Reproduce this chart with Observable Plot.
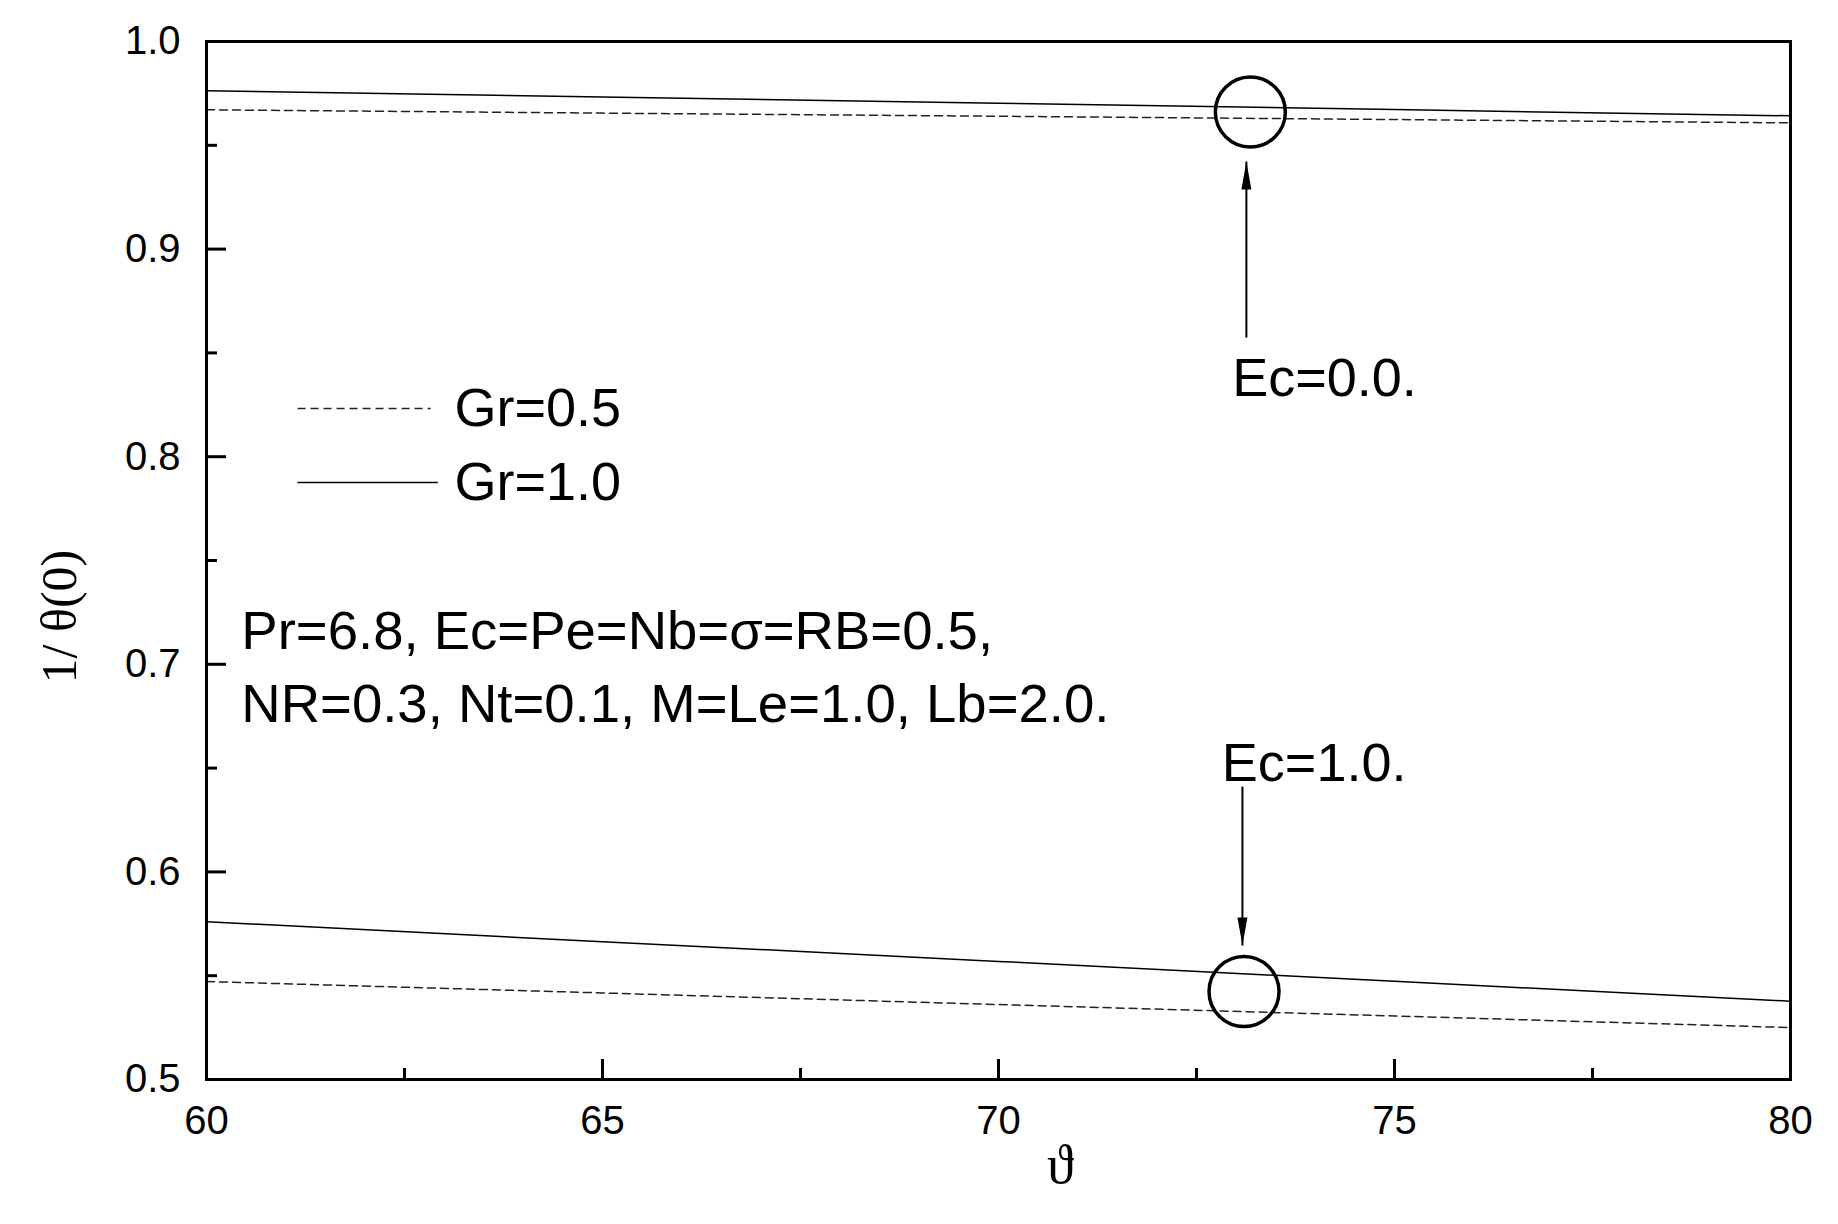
<!DOCTYPE html>
<html><head><meta charset="utf-8">
<script src="https://cdn.jsdelivr.net/npm/d3@7"></script>
<script src="https://cdn.jsdelivr.net/npm/@observablehq/plot@0.6"></script>
<style>html,body{margin:0;padding:0;background:#fff;} #chart{width:1838px;height:1224px;}</style>
</head><body><div id="chart"></div>
<script>
// x: vartheta, y: 1/theta(0)
const theta = [60, 65, 70, 75, 80];
const gr05_ec00 = [0.9671, 0.9655, 0.9640, 0.9624, 0.9608];
const gr10_ec00 = [0.9763, 0.9733, 0.9703, 0.9672, 0.9642];
const gr05_ec10 = [0.5472, 0.5417, 0.5361, 0.5306, 0.5250];
const gr10_ec10 = [0.5760, 0.5664, 0.5569, 0.5473, 0.5377];

const xMajor = [60, 65, 70, 75, 80];
const xMinor = [62.5, 67.5, 72.5, 77.5];
const yMajor = [0.5, 0.6, 0.7, 0.8, 0.9, 1.0];
const yMinor = [0.55, 0.65, 0.75, 0.85, 0.95];

const seriesNames = ["Gr=0.5", "Gr=1.0"];
const ecLabels = ["Ec=0.0.", "Ec=1.0."];
const paramLines = ["Pr=6.8, Ec=Pe=Nb=σ=RB=0.5,", "NR=0.3, Nt=0.1, M=Le=1.0, Lb=2.0."];
const xTitle = "ϑ";
const yTitle = "1/ θ(0)";

// table built from the arrays
const rows = [];
[[gr05_ec00, seriesNames[0], "ec0"], [gr10_ec00, seriesNames[1], "ec0"],
 [gr05_ec10, seriesNames[0], "ec1"], [gr10_ec10, seriesNames[1], "ec1"]].forEach(([vals, gr, ec]) => {
  vals.forEach((v, i) => rows.push({x: theta[i], y: v, gr, ec, key: gr + ec}));
});
const dashedRows = rows.filter(d => d.gr === seriesNames[0]);
const solidRows = rows.filter(d => d.gr === seriesNames[1]);

// annotation anchors (data units)
const circles = [{x: 73.18, y: 0.966}, {x: 73.1, y: 0.5424}];
const arrows = [
  {x: 73.13, y1: 0.8574, y2: 0.9422, rot: 0},
  {x: 73.08, y1: 0.6411, y2: 0.5645, rot: 180}
];
const headShape = {
  draw(context, l) {
    context.moveTo(0, -l);
    context.lineTo(-5, 0);
    context.lineTo(5, 0);
    context.closePath();
  }
};

const sans = "Liberation Sans, Arial, Helvetica, sans-serif";
const serif = "Liberation Serif, Times New Roman, DejaVu Serif, serif";

const chart = Plot.plot({
  width: 1838,
  height: 1224,
  marginLeft: 206,
  marginRight: 48,
  marginTop: 41,
  marginBottom: 145,
  style: {fontFamily: sans, fontSize: "39px", background: "#fff", color: "#000", overflow: "visible"},
  x: {domain: [60, 80], axis: null},
  y: {domain: [0.5, 1.0], axis: null},
  marks: [
    Plot.line(dashedRows, {x: "x", y: "y", z: "key", stroke: "#222", strokeWidth: 1.5, strokeDasharray: "8,5"}),
    Plot.line(solidRows, {x: "x", y: "y", z: "key", stroke: "#000", strokeWidth: 1.5}),
    Plot.axisX({ticks: xMajor, anchor: "bottom", tickSize: -20, tickPadding: 46, strokeWidth: 3, fontSize: 40, tickFormat: d => String(d)}),
    Plot.axisX({ticks: xMinor, anchor: "bottom", tickSize: -11, strokeWidth: 3, tickFormat: () => ""}),
    Plot.axisY({ticks: yMajor, anchor: "left", tickSize: -20, tickPadding: 46, strokeWidth: 3, fontSize: 40, tickFormat: d3.format(".1f")}),
    Plot.axisY({ticks: yMinor, anchor: "left", tickSize: -11, strokeWidth: 3, tickFormat: () => ""}),
    Plot.frame({stroke: "#000", strokeWidth: 3}),
    // legend
    Plot.link([{x1: 61.15, x2: 62.83, y: 0.8232}], {x1: "x1", x2: "x2", y1: "y", y2: "y", stroke: "#222", strokeWidth: 1.5, strokeDasharray: "8,5"}),
    Plot.link([{x1: 61.15, x2: 62.92, y: 0.7876}], {x1: "x1", x2: "x2", y1: "y", y2: "y", stroke: "#000", strokeWidth: 1.5}),
    Plot.text([{t: seriesNames[0], x: 63.13, y: 0.8232}, {t: seriesNames[1], x: 63.13, y: 0.7876}],
      {x: "x", y: "y", text: "t", textAnchor: "start", fontSize: 54, fontFamily: sans}),
    // parameter text
    Plot.text([{t: paramLines[0], x: 60.44, y: 0.7158}, {t: paramLines[1], x: 60.44, y: 0.6806}],
      {x: "x", y: "y", text: "t", textAnchor: "start", fontSize: 54.5, fontFamily: sans}),
    // Ec annotations
    Plot.text([{t: ecLabels[0], x: 72.95, y: 0.8377}, {t: ecLabels[1], x: 72.82, y: 0.6522}],
      {x: "x", y: "y", text: "t", textAnchor: "start", fontSize: 54, fontFamily: sans}),
    Plot.dot(circles, {x: "x", y: "y", r: 35, stroke: "#000", strokeWidth: 3.5, fill: "none"}),
    Plot.link(arrows, {x1: "x", x2: "x", y1: "y1", y2: "y2", stroke: "#000", strokeWidth: 2}),
    Plot.vector(arrows, {x: "x", y: "y2", rotate: "rot", length: 28, anchor: "end", shape: headShape, fill: "#000", stroke: "none"}),
    // axis titles
    Plot.text([{t: yTitle, y: 0.723}], {y: "y", text: "t", frameAnchor: "left", textAnchor: "middle", dx: -147, rotate: -90, fontSize: 50, fontFamily: serif}),
    Plot.text([{t: xTitle, x: 70.78}], {x: "x", text: "t", frameAnchor: "bottom", textAnchor: "middle", dy: 103, fontSize: 54, fontFamily: serif})
  ]
});
document.getElementById("chart").appendChild(chart);
</script>
</body></html>
